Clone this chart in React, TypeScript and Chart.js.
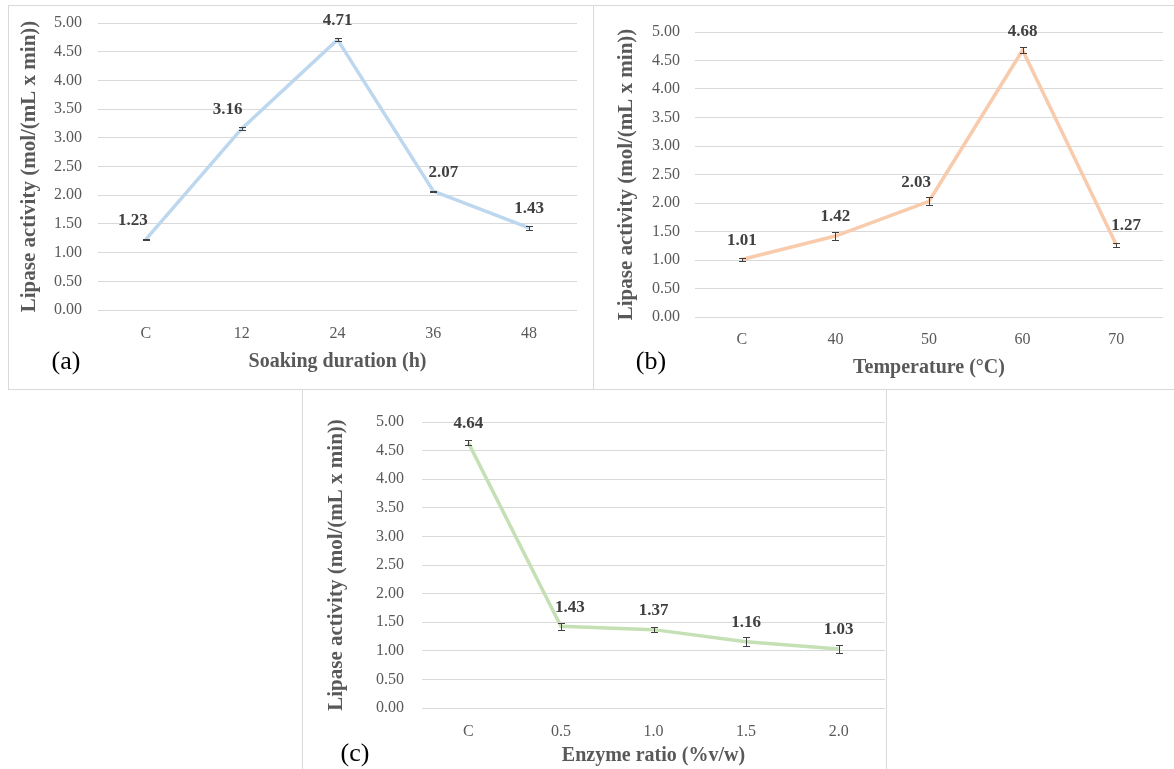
import React, { useEffect, useRef } from 'react';
import { Chart, registerables } from 'chart.js';

Chart.register(...registerables);

// ---- data ----
const categoriesA = ['C', '12', '24', '36', '48'];
const activityA = [1.23, 3.16, 4.71, 2.07, 1.43];
const errorA = [0.01, 0.03, 0.03, 0.01, 0.035];

const categoriesB = ['C', '40', '50', '60', '70'];
const activityB = [1.01, 1.42, 2.03, 4.68, 1.27];
const errorB = [0.03, 0.07, 0.07, 0.05, 0.035];

const categoriesC = ['C', '0.5', '1.0', '1.5', '2.0'];
const activityC = [4.64, 1.43, 1.37, 1.16, 1.03];
const errorC = [0.05, 0.06, 0.05, 0.08, 0.07];

const yMin = 0;
const yMax = 5;
const yStep = 0.5;

const yTitle = 'Lipase activity (mol/(mL x min))';
const xTitleA = 'Soaking duration (h)';
const xTitleB = 'Temperature (\u00B0C)';
const xTitleC = 'Enzyme ratio (%v/w)';

// ---- styles ----
const SERIF = "'Liberation Serif', 'Times New Roman', serif";
const GRID = '#d9d9d9';
const TICK_COLOR = '#595959';
const LABEL_COLOR = '#404040';

const labelShiftA = [-13, -14, 0, 10, 0];
const labelShiftB = [0, 0, -13, 0, 10];
const labelShiftC = [0, 9, 0, 0, 0];

const decoPlugin = {
  id: 'deco',
  afterDatasetsDraw(chart: any, _args: any, opts: any) {
    const { ctx } = chart;
    const xs = chart.scales.x;
    const ys = chart.scales.y;
    const data: number[] = chart.data.datasets[0].data;
    ctx.save();
    // error bars
    ctx.strokeStyle = '#404040';
    ctx.lineWidth = 1;
    data.forEach((v, i) => {
      const px = Math.round(xs.getPixelForValue(i)) + 0.5;
      const t = Math.round(ys.getPixelForValue(v + opts.errors[i])) + 0.5;
      const b = Math.round(ys.getPixelForValue(v - opts.errors[i])) + 0.5;
      ctx.beginPath();
      ctx.moveTo(px, t);
      ctx.lineTo(px, b);
      ctx.moveTo(px - 3.5, t);
      ctx.lineTo(px + 3.5, t);
      ctx.moveTo(px - 3.5, b);
      ctx.lineTo(px + 3.5, b);
      ctx.stroke();
    });
    // data labels
    ctx.font = `bold 17px ${SERIF}`;
    ctx.fillStyle = LABEL_COLOR;
    ctx.textAlign = 'center';
    ctx.textBaseline = 'middle';
    data.forEach((v, i) => {
      const px = xs.getPixelForValue(i) + opts.shifts[i];
      const py = ys.getPixelForValue(v) - 19;
      ctx.fillText(v.toFixed(2), px, py);
    });
    // panel letter
    ctx.font = `26px ${SERIF}`;
    ctx.fillStyle = '#000000';
    ctx.fillText(opts.letter, opts.letterX, opts.letterY);
    ctx.restore();
  },
};

type PanelProps = {
  left: number;
  top: number;
  width: number;
  height: number;
  categories: string[];
  values: number[];
  errors: number[];
  shifts: number[];
  color: string;
  xTitle: string;
  letter: string;
  letterX: number;
  letterY: number;
  padTop: number;
  padRight: number;
  yAxisWidth: number;
  xAxisHeight: number;
  yTickPad: number;
  yTitlePad: number;
  xTickPad: number;
  xTitlePad: number;
};

function Panel(p: PanelProps) {
  const ref = useRef<HTMLCanvasElement>(null);
  useEffect(() => {
    if (!ref.current) return;
    const chart = new Chart(ref.current, {
      type: 'line',
      data: {
        labels: p.categories,
        datasets: [
          {
            data: p.values,
            borderColor: p.color,
            borderWidth: 3.5,
            pointRadius: 0,
            tension: 0,
            fill: false,
          },
        ],
      },
      plugins: [decoPlugin],
      options: {
        animation: false,
        responsive: false,
        maintainAspectRatio: false,
        devicePixelRatio: 1,
        layout: { padding: { top: p.padTop, right: p.padRight, left: 0, bottom: 0 } },
        plugins: {
          legend: { display: false },
          tooltip: { enabled: false },
          // @ts-ignore
          deco: {
            errors: p.errors,
            shifts: p.shifts,
            letter: p.letter,
            letterX: p.letterX,
            letterY: p.letterY,
          },
        },
        scales: {
          x: {
            type: 'category',
            offset: true,
            grid: { display: false, drawTicks: false },
            border: { display: false },
            ticks: {
              color: TICK_COLOR,
              font: { family: SERIF, size: 16 },
              padding: p.xTickPad,
              maxRotation: 0,
              autoSkip: false,
            },
            title: {
              display: true,
              text: p.xTitle,
              color: TICK_COLOR,
              font: { family: SERIF, size: 20, weight: 'bold' },
              padding: { top: 0, bottom: p.xTitlePad },
            },
            afterFit(scale: any) {
              scale.height = p.xAxisHeight;
            },
          },
          y: {
            min: yMin,
            max: yMax,
            grid: {
              color: GRID,
              lineWidth: 1,
              drawTicks: true,
              tickLength: p.yTickPad,
              tickColor: 'rgba(0,0,0,0)',
            },
            border: { display: false },
            ticks: {
              stepSize: yStep,
              color: TICK_COLOR,
              font: { family: SERIF, size: 16 },
              padding: 0,
              callback: (v: any) => Number(v).toFixed(2),
            },
            title: {
              display: true,
              text: yTitle,
              color: TICK_COLOR,
              font: { family: SERIF, size: 21, weight: 'bold' },
              padding: { top: p.yTitlePad, bottom: 0 },
            },
            afterFit(scale: any) {
              scale.width = p.yAxisWidth;
            },
          },
        },
      } as any,
    });
    return () => chart.destroy();
  }, []);
  return (
    <canvas
      ref={ref}
      width={p.width}
      height={p.height}
      style={{ position: 'absolute', left: p.left, top: p.top, width: p.width, height: p.height }}
    />
  );
}

const frame = (left: number, top: number, width: number, height: number): React.CSSProperties => ({
  position: 'absolute',
  left,
  top,
  width,
  height,
  boxSizing: 'border-box',
  border: `1px solid ${GRID}`,
  background: '#ffffff',
});

export default function App() {
  return (
    <div
      style={{
        position: 'absolute',
        left: 0,
        top: 0,
        width: 1174,
        height: 769,
        background: '#ffffff',
        overflow: 'hidden',
      }}
    >
      <div style={frame(8, 5, 586, 385)} />
      <div style={frame(593, 5, 590, 385)} />
      <div style={frame(302, 389, 585, 400)} />
      <Panel
        left={9}
        top={6}
        width={583}
        height={382}
        categories={categoriesA}
        values={activityA}
        errors={errorA}
        shifts={labelShiftA}
        color="#bdd7ee"
        xTitle={xTitleA}
        letter="(a)"
        letterX={57}
        letterY={356}
        padTop={17}
        padRight={15}
        yAxisWidth={89}
        xAxisHeight={78}
        yTickPad={16}
        yTitlePad={8}
        xTickPad={14}
        xTitlePad={14}
      />
      <Panel
        left={594}
        top={6}
        width={578}
        height={382}
        categories={categoriesB}
        values={activityB}
        errors={errorB}
        shifts={labelShiftB}
        color="#f8cbad"
        xTitle={xTitleB}
        letter="(b)"
        letterX={57}
        letterY={356}
        padTop={26}
        padRight={9}
        yAxisWidth={101}
        xAxisHeight={71}
        yTickPad={15}
        yTitlePad={20}
        xTickPad={13}
        xTitlePad={8}
      />
      <Panel
        left={303}
        top={390}
        width={583}
        height={379}
        categories={categoriesC}
        values={activityC}
        errors={errorC}
        shifts={labelShiftC}
        color="#c5e0b4"
        xTitle={xTitleC}
        letter="(c)"
        letterX={52}
        letterY={364}
        padTop={32}
        padRight={1}
        yAxisWidth={119}
        xAxisHeight={61}
        yTickPad={18}
        yTitlePad={21}
        xTickPad={14}
        xTitlePad={1}
      />
    </div>
  );
}
